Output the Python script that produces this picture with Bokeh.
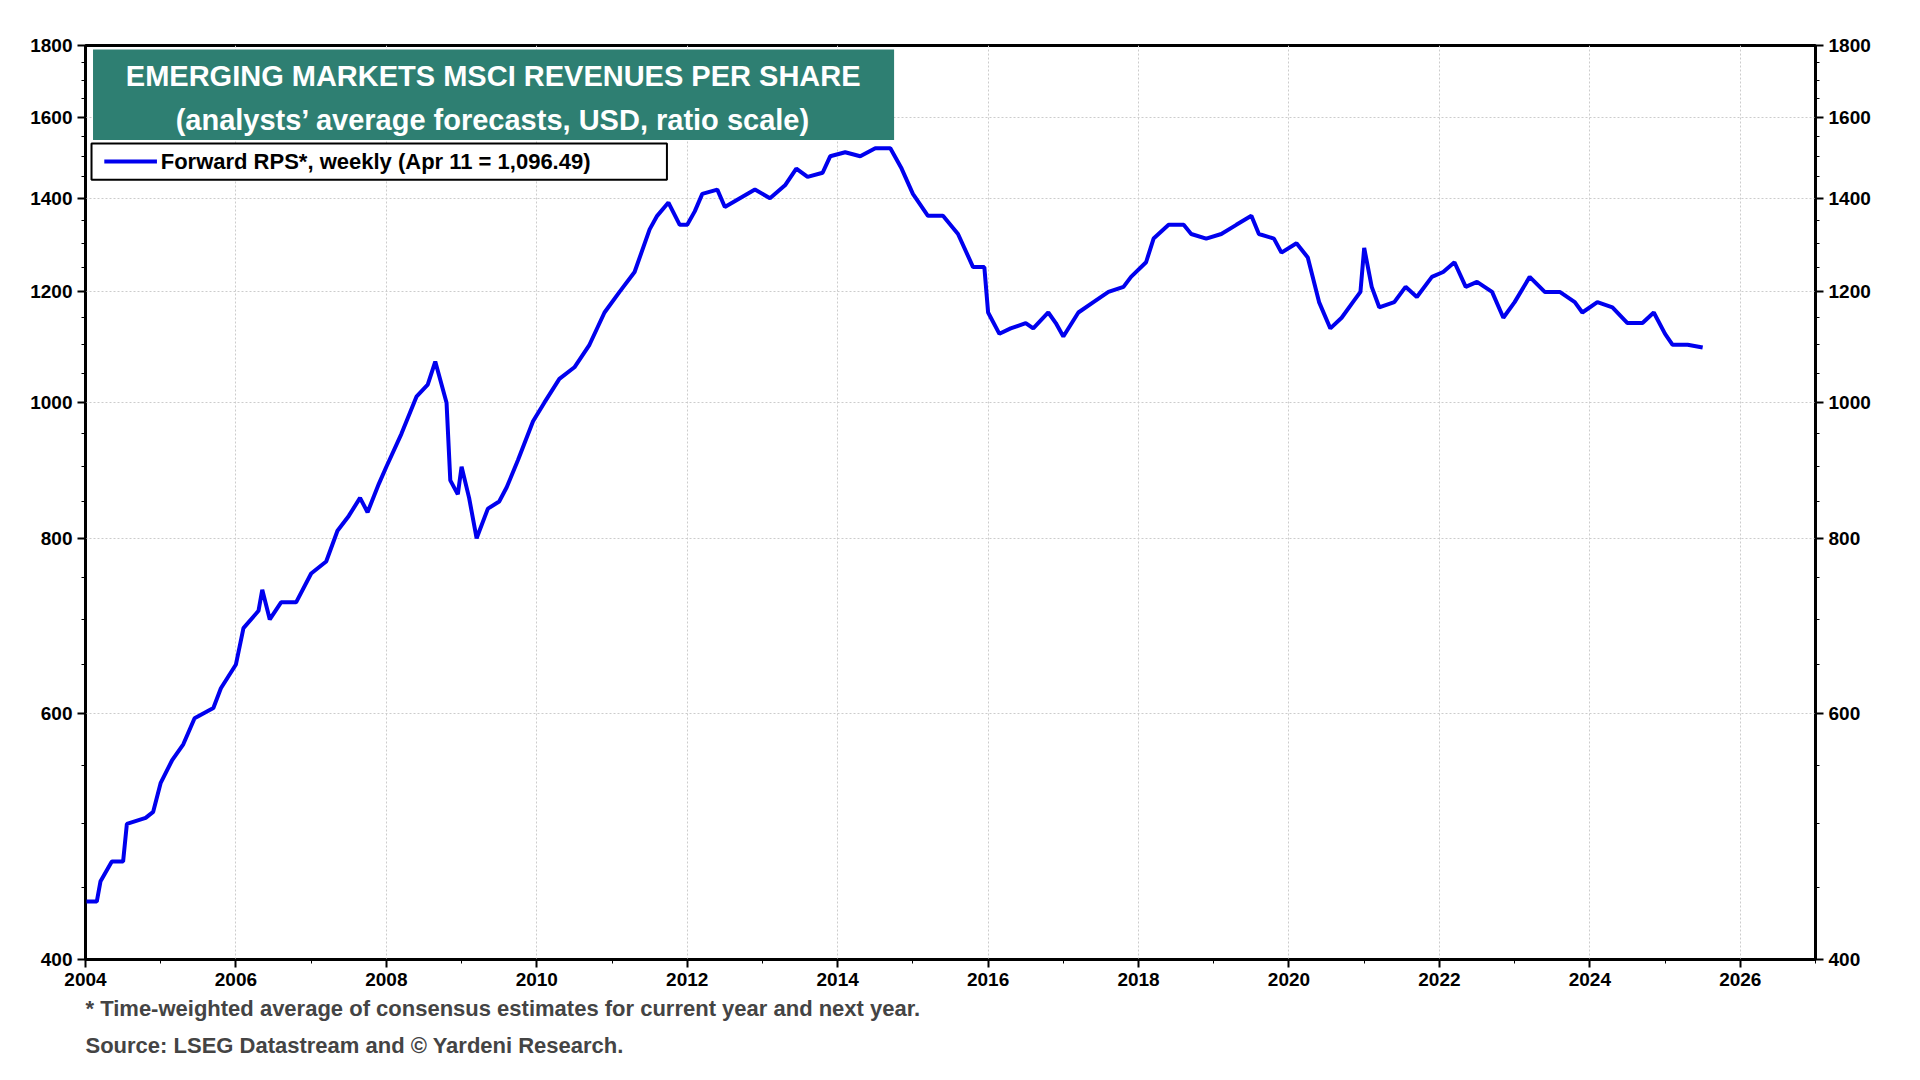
from bokeh.plotting import figure
from bokeh.models import FixedTicker, LogAxis, Title, ColumnDataSource
from bokeh.core.properties import value
from bokeh.embed import file_html
from bokeh.resources import INLINE

years = [2004.0,2004.15,2004.2,2004.35,2004.5,2004.55,2004.8,2004.9,2005.0,2005.15,2005.3,2005.45,2005.7,2005.8,2006.0,2006.1,2006.3,2006.35,2006.45,2006.6,2006.8,2007.0,2007.2,2007.35,2007.5,2007.65,2007.75,2007.9,2008.0,2008.2,2008.4,2008.55,2008.65,2008.8,2008.85,2008.95,2009.0,2009.1,2009.2,2009.35,2009.5,2009.6,2009.75,2009.95,2010.1,2010.3,2010.5,2010.7,2010.9,2011.1,2011.3,2011.5,2011.6,2011.75,2011.9,2012.0,2012.1,2012.2,2012.4,2012.5,2012.7,2012.9,2013.1,2013.3,2013.45,2013.6,2013.8,2013.9,2014.1,2014.3,2014.5,2014.7,2014.85,2015.0,2015.2,2015.4,2015.6,2015.8,2015.95,2016.0,2016.15,2016.3,2016.5,2016.6,2016.8,2016.9,2017.0,2017.2,2017.4,2017.6,2017.8,2017.9,2018.1,2018.2,2018.4,2018.6,2018.7,2018.9,2019.1,2019.3,2019.5,2019.6,2019.8,2019.9,2020.1,2020.25,2020.4,2020.55,2020.7,2020.85,2020.95,2021.0,2021.1,2021.2,2021.4,2021.55,2021.7,2021.9,2022.05,2022.2,2022.35,2022.5,2022.7,2022.85,2023.0,2023.2,2023.4,2023.6,2023.8,2023.9,2024.1,2024.3,2024.5,2024.7,2024.85,2025.0,2025.1,2025.3,2025.5]
rps = [440,440,455,470,470,500,505,510,535,555,570,595,605,625,650,690,710,735,700,720,720,755,770,810,830,855,835,875,900,950,1010,1030,1070,1000,880,860,900,855,800,840,850,870,910,970,1000,1040,1060,1100,1160,1200,1240,1330,1360,1390,1340,1340,1370,1410,1420,1380,1400,1420,1400,1430,1470,1450,1460,1500,1510,1500,1520,1520,1470,1410,1360,1360,1320,1250,1250,1160,1120,1130,1140,1130,1160,1140,1115,1160,1180,1200,1210,1230,1260,1310,1340,1340,1320,1310,1320,1340,1360,1320,1310,1280,1300,1270,1180,1130,1150,1180,1200,1290,1210,1170,1180,1210,1190,1230,1240,1260,1210,1220,1200,1150,1180,1230,1200,1200,1180,1160,1180,1170,1140,1140,1160,1120,1100,1100,1095]
y_ticks = [400,600,800,1000,1200,1400,1600,1800]
y_minor = list(range(400, 1801, 50))
x_ticks = list(range(2004, 2027, 2))
x_minor = list(range(2004, 2028))
title_lines = ["EMERGING MARKETS MSCI REVENUES PER SHARE", "(analysts\u2019 average forecasts, USD, ratio scale)"]
legend_label = "Forward RPS*, weekly (Apr 11 = 1,096.49)"
notes = ["* Time-weighted average of consensus estimates for current year and next year.",
         "Source: LSEG Datastream and \u00a9 Yardeni Research."]

FONT = "Liberation Sans"
p = figure(width=1900, height=1062, y_axis_type="log", x_range=(2004, 2027), y_range=(400, 1800),
           output_backend="svg", toolbar_location=None, min_border_left=85, min_border_right=85,
           min_border_top=45, min_border_bottom=10)
p.outline_line_color = "black"; p.outline_line_width = 3

def style(ax):
    ax.major_label_text_font = FONT; ax.major_label_text_font_style = "bold"
    ax.major_label_text_font_size = "19px"; ax.major_label_text_color = "black"
    ax.axis_line_width = 2; ax.major_tick_line_width = 2
    ax.major_tick_out = 8; ax.minor_tick_out = 4; ax.major_tick_in = 0; ax.minor_tick_in = 0

style(p.xaxis[0]); style(p.yaxis[0])
p.xaxis.ticker = FixedTicker(ticks=x_ticks, minor_ticks=x_minor)
p.yaxis.ticker = FixedTicker(ticks=y_ticks, minor_ticks=y_minor)
ra = LogAxis(ticker=FixedTicker(ticks=y_ticks, minor_ticks=y_minor))
style(ra)
p.add_layout(ra, "right")
p.xgrid.ticker = FixedTicker(ticks=x_ticks)
p.ygrid.ticker = FixedTicker(ticks=y_ticks)
for g in [p.xgrid[0], p.ygrid[0]]:
    g.grid_line_color = "#cccccc"; g.grid_line_dash = "2 2"

src = ColumnDataSource(dict(x=years, y=rps))
p.line("x", "y", source=src, line_color="#0000ee", line_width=4)

# title box
p.quad(left=[2004.1], right=[2014.75], bottom=[1541], top=[1788], fill_color="#2e7f72", line_color=None)
p.text(x=[2009.42, 2009.42], y=[1712, 1592], text=title_lines, text_align="center", text_baseline="middle",
       text_color="white", text_font=value(FONT), text_font_style="bold", text_font_size="29px")

# legend box
p.quad(left=[2004.08], right=[2011.73], bottom=[1443], top=[1532], fill_color="white",
       line_color="black", line_width=2)
p.line(x=[2004.25, 2004.95], y=[1487, 1487], line_color="#0000ee", line_width=4)
p.text(x=[2005.0], y=[1487], text=[legend_label], text_baseline="middle", text_color="black",
       text_font=value(FONT), text_font_style="bold", text_font_size="22px")

for t in notes:
    p.add_layout(Title(text=t, text_font=FONT, text_font_style="bold", text_font_size="22px",
                       align="left", offset=0), "below")

open("out.html", "w").write(file_html(p, INLINE))
